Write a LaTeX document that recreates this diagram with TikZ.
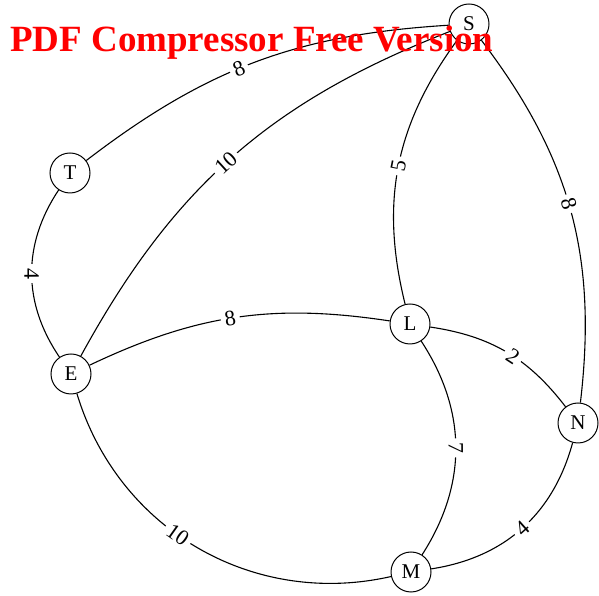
\documentclass[tikz,border=0pt]{standalone}
\usepackage{fontspec}
\setmainfont{Liberation Serif}
\begin{document}
\begin{tikzpicture}[x=1pt,y=1pt,
  vtx/.style={circle,draw,line width=1pt,minimum size=40pt,inner sep=0pt,fill=white,font=\fontsize{21}{21}\selectfont},
  edge/.style={line width=1.1pt},
  wt/.style={sloped,fill=white,inner sep=4pt,font=\fontsize{22}{22}\selectfont}]
\useasboundingbox (0,0) rectangle (599,596);
\node[vtx] (S) at (469,572) {S};
\node[vtx] (T) at (70,423) {T};
\node[vtx] (E) at (71,222) {E};
\node[vtx] (L) at (410,272) {L};
\node[vtx] (N) at (578,173) {N};
\node[vtx] (M) at (411,24) {M};
\draw[edge] (T) to[bend left=17] node[wt,pos=0.45]{8} (S);
\draw[edge] (E) to[bend left=20] node[wt,pos=0.48]{10} (S);
\draw[edge] (L) to[bend left=25] node[wt,pos=0.5]{5} (S);
\draw[edge] (S) to[bend left=22] node[wt,pos=0.48]{8} (N);
\draw[edge] (T) to[bend right=34] node[wt]{4} (E);
\draw[edge] (E) to[bend left=17] node[wt,pos=0.48]{8} (L);
\draw[edge] (L) to[bend left=22] node[wt,pos=0.55]{2} (N);
\draw[edge] (L) to[bend left=33] node[wt]{7} (M);
\draw[edge] (N) to[bend left=33] node[wt]{4} (M);
\draw[edge] (E) to[bend right=43] node[wt,pos=0.44]{10} (M);
\node[anchor=base west,text=red,inner sep=0pt,font=\fontsize{37}{37}\bfseries\selectfont] (wm) at (10,544) {PDF Compressor Free Version};
\end{tikzpicture}
\end{document}
